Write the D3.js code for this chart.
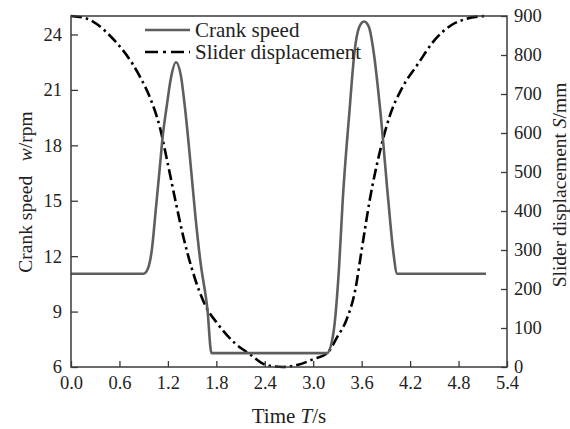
<!DOCTYPE html>
<html lang="en">
  <head>
    <meta charset="UTF-8" />
    <title>Crank speed and slider displacement</title>
    <style>
      * {
        margin: 0;
        padding: 0;
      }
      body {
        background-color: #fff;
      }
      text {
        font-family: "Liberation Serif", "DejaVu Serif", serif;
        fill: #222;
      }
    </style>
  </head>
  <body>
    <script src="https://cdn.jsdelivr.net/npm/d3@7/dist/d3.min.js"></script>
    <script>
      // crank speed w (rpm), left axis
      const crankT = [0, 0.9, 0.95, 1.0, 1.05, 1.1, 1.135, 1.185, 1.24, 1.3, 1.36, 1.41, 1.47, 1.54, 1.6, 1.69, 1.74,
        3.17, 3.25, 3.32, 3.365, 3.45, 3.51, 3.57, 3.63, 3.69, 3.75, 3.83, 3.93, 3.99, 4.04, 5.14];
      const crankW = [11.05, 11.05, 11.3, 12.3, 14.5, 16.8, 18.45, 20.1, 21.7, 22.5, 21.8, 20.1, 17.5, 14.2, 11.8, 9.1, 6.75,
        6.75, 7.84, 11.4, 15.0, 19.9, 23.0, 24.4, 24.7, 24.4, 23.0, 19.9, 15.0, 12.3, 11.05, 11.05];
      // slider displacement S (mm), right axis
      const sliderT = [0, 0.2, 0.48, 0.855, 0.98, 1.1, 1.2, 1.3, 1.39, 1.5, 1.68, 1.8, 2.03, 2.2, 2.42, 2.62, 2.8, 3.0,
        3.17, 3.3, 3.41, 3.52, 3.6, 3.7, 3.83, 3.95, 4.1, 4.3, 4.49, 4.7, 4.9, 5.13];
      const sliderS = [900, 893, 850, 744, 690, 615, 520, 420, 335, 250, 151, 115, 61, 35, 5, 0, 5, 20,
        35, 78, 120, 197, 300, 428, 556, 645, 715, 778, 835, 875, 893, 900];
      const xTicks = [0, 0.6, 1.2, 1.8, 2.4, 3.0, 3.6, 4.2, 4.8, 5.4];
      const leftTicks = [6, 9, 12, 15, 18, 21, 24];
      const rightTicks = [0, 100, 200, 300, 400, 500, 600, 700, 800, 900];
      const legendNames = ["Crank speed", "Slider displacement"];

      const W = 570, H = 429;
      const m = { left: 71, right: 507, top: 16, bottom: 367 };
      const axisColor = "#3a3a3a";

      const svg = d3.select("body").append("svg").attr("width", W).attr("height", H);

      const x = d3.scaleLinear().domain([0, 5.4]).range([m.left, m.right]);
      const yL = d3.scaleLinear().domain([6, 25]).range([m.bottom, m.top]);
      const yR = d3.scaleLinear().domain([0, 900]).range([m.bottom, m.top]);

      // 曲线
      const crankLine = d3.line().x((d) => x(d[0])).y((d) => yL(d[1])).curve(d3.curveMonotoneX);
      const sliderLine = d3.line().x((d) => x(d[0])).y((d) => yR(d[1])).curve(d3.curveMonotoneX);

      svg
        .append("path")
        .datum(sliderT.map((t, i) => [t, sliderS[i]]))
        .attr("d", sliderLine)
        .attr("fill", "none")
        .attr("stroke", "#000")
        .attr("stroke-width", 2.6)
        .attr("stroke-dasharray", "11,4,2.5,4");

      svg
        .append("path")
        .datum(crankT.map((t, i) => [t, crankW[i]]))
        .attr("d", crankLine)
        .attr("fill", "none")
        .attr("stroke", "#5e5e5e")
        .attr("stroke-width", 2.6);

      // 坐标轴
      const styleAxis = (g) => {
        g.select(".domain").remove();
        g.selectAll(".tick line").attr("stroke", axisColor).attr("stroke-width", 1.3);
        g.selectAll(".tick text").attr("font-size", 18.5).attr("fill", "#222");
      };

      svg
        .append("g")
        .attr("transform", `translate(0,${m.bottom})`)
        .call(d3.axisBottom(x).tickValues(xTicks).tickFormat(d3.format(".1f")).tickSizeInner(-6).tickPadding(9))
        .call(styleAxis);

      svg
        .append("g")
        .attr("transform", `translate(${m.left},0)`)
        .call(d3.axisLeft(yL).tickValues(leftTicks).tickSizeInner(-7).tickPadding(9))
        .call(styleAxis);

      svg
        .append("g")
        .attr("transform", `translate(${m.right},0)`)
        .call(d3.axisRight(yR).tickValues(rightTicks).tickSizeInner(-6).tickPadding(7))
        .call(styleAxis)
        .call((g) => g.selectAll(".tick text").attr("dy", "0.28em"));

      // 边框
      svg
        .append("rect")
        .attr("x", m.left)
        .attr("y", m.top)
        .attr("width", m.right - m.left)
        .attr("height", m.bottom - m.top)
        .attr("fill", "none")
        .attr("stroke", axisColor)
        .attr("stroke-width", 1.5);

      // 轴标题
      svg
        .append("text")
        .attr("x", (m.left + m.right) / 2)
        .attr("y", 423)
        .attr("text-anchor", "middle")
        .attr("font-size", 21)
        .call((t) => {
          t.append("tspan").text("Time ");
          t.append("tspan").attr("font-style", "italic").text("T");
          t.append("tspan").text("/s");
        });

      svg
        .append("text")
        .attr("transform", `translate(32,192) rotate(-90)`)
        .attr("text-anchor", "middle")
        .attr("font-size", 19.5)
        .call((t) => {
          t.append("tspan").text("Crank speed\u00a0\u00a0\u00a0");
          t.append("tspan").attr("font-style", "italic").text("w");
          t.append("tspan").text("/rpm");
        });

      svg
        .append("text")
        .attr("transform", `translate(566,185) rotate(-90)`)
        .attr("text-anchor", "middle")
        .attr("font-size", 19.5)
        .call((t) => {
          t.append("tspan").text("Slider displacement ");
          t.append("tspan").attr("font-style", "italic").text("S");
          t.append("tspan").text("/mm");
        });

      // 图例
      const legend = svg.append("g");
      legendNames.forEach((name, i) => {
        const ly = 30 + i * 22;
        legend
          .append("line")
          .attr("x1", 145)
          .attr("x2", 190)
          .attr("y1", ly)
          .attr("y2", ly)
          .attr("stroke", i === 0 ? "#5e5e5e" : "#000")
          .attr("stroke-width", 2.6)
          .attr("stroke-dasharray", i === 0 ? null : "13,5,3,5");
        legend
          .append("text")
          .attr("x", 195)
          .attr("y", ly + 7)
          .attr("font-size", 21)
          .text(name);
      });
    </script>
  </body>
</html>
